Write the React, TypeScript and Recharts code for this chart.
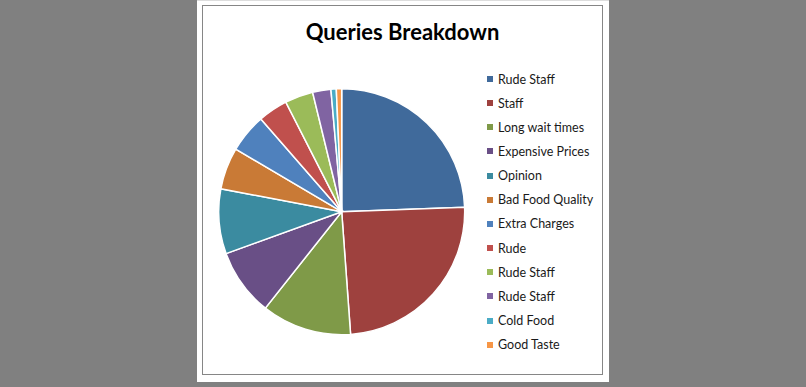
import React from "react";
import { PieChart, Pie, Cell, Legend } from "recharts";

const categories = [
  "Rude Staff",
  "Staff",
  "Long wait times",
  "Expensive Prices",
  "Opinion",
  "Bad Food Quality",
  "Extra Charges",
  "Rude",
  "Rude Staff",
  "Rude Staff",
  "Cold Food",
  "Good Taste",
];

const queryShares = [24.4, 24.4, 11.8, 8.8, 8.5, 5.5, 5.1, 3.9, 3.7, 2.4, 0.7, 0.7];

const sliceColors = [
  "#406A9B",
  "#9E413E",
  "#7F9A48",
  "#694F86",
  "#3B8BA0",
  "#C97A36",
  "#4F81BD",
  "#C0504D",
  "#9BBB59",
  "#8064A2",
  "#4BACC6",
  "#F79646",
];

type Row = { name: string; value: number };

const data: Row[] = categories.map((name, i) => ({ name, value: queryShares[i] }));

const LegendBox = (props: any) => {
  const { payload } = props;
  return (
    <div style={{ position: "relative" }}>
      {(payload || []).map((entry: any, i: number) => (
        <div
          key={`leg-${i}`}
          style={{
            position: "absolute",
            left: 0,
            top: i * 24.15,
            height: 16,
            display: "flex",
            alignItems: "center",
            whiteSpace: "nowrap",
          }}
        >
          <span
            style={{
              display: "inline-block",
              width: 6,
              height: 6,
              background: entry.color,
              marginRight: 5,
            }}
          />
          <span style={{ fontFamily: "Lato", fontSize: 12.5, color: "#1a1a1a" }}>
            {entry.value}
          </span>
        </div>
      ))}
    </div>
  );
};

export default function App() {
  return (
    <div
      style={{
        position: "absolute",
        left: 0,
        top: 0,
        width: 806,
        height: 387,
        background: "#808080",
        overflow: "hidden",
      }}
    >
      {/* white sheet */}
      <div
        style={{
          position: "absolute",
          left: 197,
          top: 0,
          width: 412,
          height: 382,
          background: "#fff",
          borderTop: "1px solid #ddd",
          boxSizing: "border-box",
        }}
      />
      {/* chart frame */}
      <div
        style={{
          position: "absolute",
          left: 202,
          top: 5,
          width: 401,
          height: 370,
          border: "1px solid #868686",
          boxSizing: "border-box",
        }}
      />
      <div
        style={{
          position: "absolute",
          left: 202,
          top: 18,
          width: 401,
          textAlign: "center",
          fontFamily: "Lato",
          fontWeight: 700,
          fontSize: 22,
          color: "#000",
        }}
      >
        Queries Breakdown
      </div>
      <div style={{ position: "absolute", left: 0, top: 0 }}>
        <PieChart width={806} height={387} margin={{ top: 0, right: 0, bottom: 0, left: 0 }}>
          <Pie
            data={data}
            dataKey="value"
            nameKey="name"
            cx={341.7}
            cy={211.7}
            outerRadius={123}
            startAngle={90}
            endAngle={-270}
            stroke="#ffffff"
            strokeWidth={1.5}
            isAnimationActive={false}
          >
            {data.map((_, i) => (
              <Cell key={`cell-${i}`} fill={sliceColors[i]} />
            ))}
          </Pie>
          <Legend
            layout="vertical"
            itemSorter={null as any}
            content={<LegendBox />}
            wrapperStyle={{ position: "absolute", left: 487, top: 71, width: 110 }}
          />
        </PieChart>
      </div>
    </div>
  );
}
